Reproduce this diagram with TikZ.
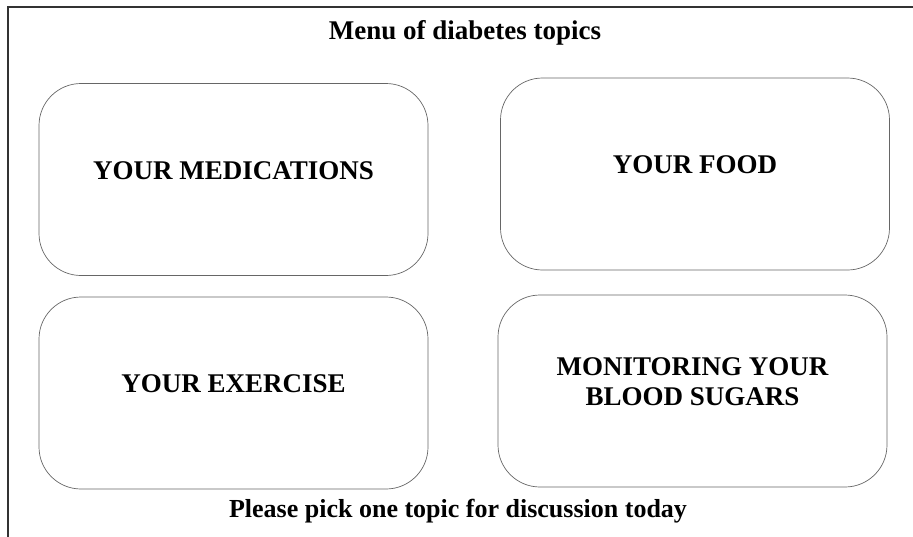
\documentclass[tikz,border=0pt]{standalone}
\usepackage{fontspec}
\setmainfont{Liberation Serif}
\usetikzlibrary{positioning}

\begin{document}
\begin{tikzpicture}[
  x=1pt, y=-1pt,
  frame/.style={draw=black!80, line width=1.2pt},
  topic/.style={draw=black!60, line width=0.7pt, rounded corners=42pt,
    minimum width=389pt, minimum height=192pt, align=center, text depth=18pt,
    font=\bfseries\fontsize{27}{30}\selectfont},
  caption/.style={anchor=base, inner sep=0pt}
]
\useasboundingbox (0,0) rectangle (913,536);
\draw[frame] (8,540) |- (920,7);
\node[caption,font=\bfseries\fontsize{27}{30}\selectfont] (title) at (465,39) {Menu of diabetes topics};
\node[topic] (med) at (233.5,179.5) {YOUR MEDICATIONS};
\node[topic] (food) at (695,174) {YOUR FOOD};
\node[topic] (exer) at (233.5,393) {YOUR EXERCISE};
\node[topic] (sugar) at (692.5,391) {MONITORING YOUR\\BLOOD SUGARS};
\node[caption,font=\bfseries\fontsize{26}{30}\selectfont] (pick) at (458,517) {Please pick one topic for discussion today};
\end{tikzpicture}
\end{document}
